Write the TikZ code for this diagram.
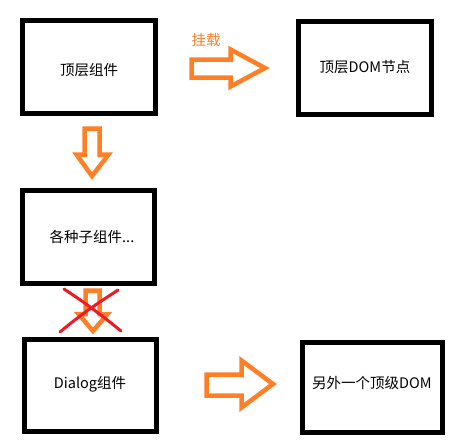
\documentclass[tikz,border=0pt]{standalone}
\usepackage{fontspec}
\setmainfont{Noto Sans CJK SC}
\definecolor{paintorange}{RGB}{255,127,39}
\definecolor{paintred}{RGB}{237,28,36}
\begin{document}
\begin{tikzpicture}[x=1pt,y=-1pt,
  box/.style={draw=black,line width=5pt,minimum width=#1,inner sep=0pt},
  lbl/.style={font=\fontsize{14.5}{16}\selectfont,text=black,inner sep=0pt},
  blockarrow/.style={draw=paintorange,line width=4.5pt,fill=white},
  cross/.style={draw=paintred,line width=3pt,line cap=round}]
\useasboundingbox[fill=white] (0,0) rectangle (456,447);
% boxes
\node[box=133pt,minimum height=93pt] (b1) at (89,67) {};
\node[box=133pt,minimum height=93pt] (b2) at (365,68) {};
\node[box=132pt,minimum height=93pt] (b3) at (88.5,237) {};
\node[box=132pt,minimum height=92pt] (b4) at (90.5,385.5) {};
\node[box=140pt,minimum height=90pt] (b5) at (372.5,387.5) {};
% texts
\node[lbl] (t1) at (89,70) {顶层组件};
\node[lbl] (t2) at (365,67) {顶层DOM节点};
\node[lbl] (t3) at (92,237) {各种子组件...};
\node[lbl] (t4) at (90,384) {Dialog组件};
\node[lbl] (t5) at (372,383) {另外一个顶级DOM};
\node[lbl,text=paintorange] (mount) at (206,40) {挂载};
% block arrows
\draw[blockarrow] (191.5,59.5) -- (230.5,59.5) -- (230.5,49.5) -- (265,68) -- (230.5,86.5) -- (230.5,77.5) -- (191.5,77.5) -- cycle;
\draw[blockarrow] (84.5,128.5) -- (84.5,154.5) -- (76.5,154.5) -- (92,176) -- (108.5,154.5) -- (99.5,154.5) -- (99.5,128.5) -- cycle;
\draw[blockarrow] (85.5,290.5) -- (85.5,314) -- (78.5,314) -- (93,331) -- (107.5,314) -- (99.5,314) -- (99.5,290.5) -- cycle;
\draw[blockarrow] (206.5,374.5) -- (241.5,374.5) -- (241.5,360.5) -- (273,384) -- (241.5,407.5) -- (241.5,395.5) -- (206.5,395.5) -- cycle;
% red cross
\coordinate (xa1) at (60,332);
\coordinate (xa2) at (118,290);
\coordinate (xb1) at (64,289);
\coordinate (xb2) at (121,331);
\draw[cross] (xa1) .. controls (85,311) and (100,302) .. (xa2);
\draw[cross] (xb1) .. controls (90,306) and (105,318) .. (xb2);
\end{tikzpicture}
\end{document}
